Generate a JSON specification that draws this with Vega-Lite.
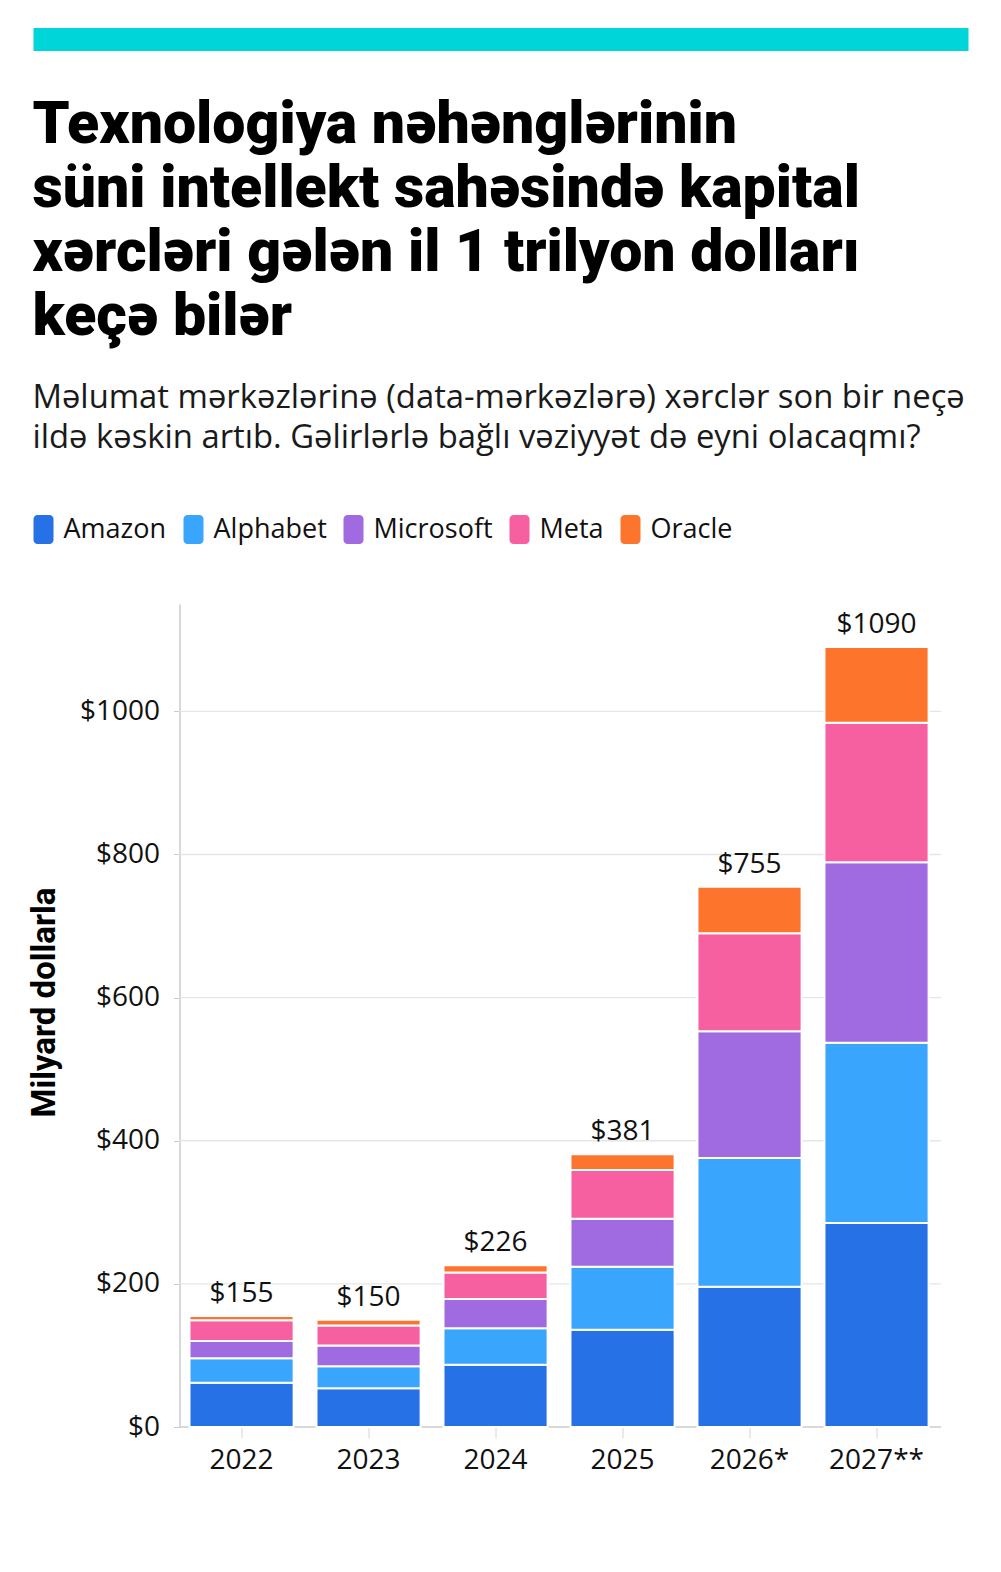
{
  "$schema": "https://vega.github.io/schema/vega-lite/v6.json",
  "background": "white",
  "padding": {"left": 27.5, "top": 28, "right": 0, "bottom": 30},
  "spacing": 45,
  "resolve": {"legend": {"color": "independent"}},
  "config": {
    "view": {"stroke": null},
    "font": "Open Sans"
  },
  "vconcat": [
    {
      "width": 935,
      "height": 23,
      "data": {"values": [{"part": "accent"}]},
      "mark": {"type": "rect", "color": "#00D5D9"},
      "encoding": {}
    },
    {
      "width": 908,
      "height": 823,
      "title": {
        "text": [
          "Texnologiya nəhənglərinin",
          "süni intellekt sahəsində kapital",
          "xərcləri gələn il 1 trilyon dolları",
          "keçə bilər"
        ],
        "subtitle": [
          "Məlumat mərkəzlərinə (data-mərkəzlərə) xərclər son bir neçə",
          "ildə kəskin artıb. Gəlirlərlə bağlı vəziyyət də eyni olacaqmı?"
        ],
        "anchor": "start",
        "dx": 4,
        "font": "Roboto",
        "fontSize": 59,
        "fontWeight": 900,
        "lineHeight": 64,
        "color": "#000000",
        "subtitleFont": "Open Sans",
        "subtitleFontSize": 32.8,
        "subtitleLineHeight": 40,
        "subtitleColor": "#1a1a1a",
        "subtitlePadding": 35,
        "offset": 60
      },
      "data": {
        "values": [
          {"year": "2022", "company": "Amazon", "value": 62},
          {"year": "2022", "company": "Alphabet", "value": 34},
          {"year": "2022", "company": "Microsoft", "value": 24},
          {"year": "2022", "company": "Meta", "value": 29},
          {"year": "2022", "company": "Oracle", "value": 6},
          {"year": "2023", "company": "Amazon", "value": 54},
          {"year": "2023", "company": "Alphabet", "value": 31},
          {"year": "2023", "company": "Microsoft", "value": 29},
          {"year": "2023", "company": "Meta", "value": 28},
          {"year": "2023", "company": "Oracle", "value": 8},
          {"year": "2024", "company": "Amazon", "value": 87},
          {"year": "2024", "company": "Alphabet", "value": 51},
          {"year": "2024", "company": "Microsoft", "value": 41},
          {"year": "2024", "company": "Meta", "value": 37},
          {"year": "2024", "company": "Oracle", "value": 10},
          {"year": "2025", "company": "Amazon", "value": 136},
          {"year": "2025", "company": "Alphabet", "value": 88},
          {"year": "2025", "company": "Microsoft", "value": 67},
          {"year": "2025", "company": "Meta", "value": 68},
          {"year": "2025", "company": "Oracle", "value": 22},
          {"year": "2026*", "company": "Amazon", "value": 196},
          {"year": "2026*", "company": "Alphabet", "value": 180},
          {"year": "2026*", "company": "Microsoft", "value": 177},
          {"year": "2026*", "company": "Meta", "value": 137},
          {"year": "2026*", "company": "Oracle", "value": 65},
          {"year": "2027**", "company": "Amazon", "value": 285},
          {"year": "2027**", "company": "Alphabet", "value": 252},
          {"year": "2027**", "company": "Microsoft", "value": 252},
          {"year": "2027**", "company": "Meta", "value": 195},
          {"year": "2027**", "company": "Oracle", "value": 106}
        ]
      },
      "encoding": {
        "x": {
          "field": "year",
          "type": "nominal",
          "sort": null,
          "title": null,
          "scale": {
            "domain": ["2022", "2023", "2024", "2025", "2026*", "2027**"],
            "paddingInner": 0.18,
            "paddingOuter": 0.665,
            "align": 0.9236
          },
          "axis": {
            "labelAngle": 0,
            "labelFontSize": 28,
            "labelColor": "#111111",
            "labelPadding": 8,
            "tickSize": 11,
            "tickColor": "#d6d6d6",
            "domain": false
          }
        }
      },
      "layer": [
        {
          "data": {
            "values": [
              {"tick": 0},
              {"tick": 200},
              {"tick": 400},
              {"tick": 600},
              {"tick": 800},
              {"tick": 1000}
            ]
          },
          "mark": {"type": "rule", "strokeWidth": 1.3},
          "encoding": {
            "x": {"datum": "2022", "type": "nominal", "bandPosition": -0.096},
            "x2": {"datum": "2027**", "bandPosition": 1.12},
            "y": {
              "field": "tick",
              "type": "quantitative",
              "title": "Milyard dollarla",
              "scale": {"domain": [0, 1150], "nice": false},
              "axis": {
                "values": [0, 200, 400, 600, 800, 1000],
                "format": "$.0f",
                "offset": -146,
                "grid": false,
                "labelFontSize": 28,
                "labelColor": "#111111",
                "labelPadding": 14,
                "tickSize": 6,
                "tickColor": "#cccccc",
                "domainColor": "#cccccc",
                "domainWidth": 1.5,
                "titleFont": "Roboto",
                "titleFontWeight": "bold",
                "titleFontSize": 33,
                "titleColor": "#000000",
                "titlePadding": 18,
                "titleY": 398
              }
            },
            "color": {
              "condition": {"test": "datum.tick === 0", "value": "#cccccc"},
              "value": "#e6e6e6"
            }
          }
        },
        {
          "transform": [
            {"calculate": "indexof(['Amazon', 'Alphabet', 'Microsoft', 'Meta', 'Oracle'], datum.company)", "as": "stack_rank"}
          ],
          "mark": {"type": "bar", "stroke": "white", "strokeWidth": 2},
          "encoding": {
            "y": {
              "field": "value",
              "type": "quantitative",
              "aggregate": "sum",
              "stack": "zero",
              "title": "Milyard dollarla"
            },
            "color": {
              "field": "company",
              "type": "nominal",
              "sort": ["Amazon", "Alphabet", "Microsoft", "Meta", "Oracle"],
              "scale": {
                "domain": ["Amazon", "Alphabet", "Microsoft", "Meta", "Oracle"],
                "range": ["#2571E5", "#39A5FD", "#A06BE0", "#F65FA0", "#FD752D"]
              },
              "legend": {
                "title": null,
                "orient": "none",
                "direction": "horizontal",
                "legendX": -4.5,
                "legendY": -89,
                "padding": 0,
                "labelFontSize": 27,
                "labelColor": "#111111",
                "labelOffset": 5.5,
                "columnPadding": 12,
                "symbolType": "M-0.41,-1 H0.41 A0.28,0.28 0 0 1 0.69,-0.72 V0.72 A0.28,0.28 0 0 1 0.41,1 H-0.41 A0.28,0.28 0 0 1 -0.69,0.72 V-0.72 A0.28,0.28 0 0 1 -0.41,-1 Z",
                "symbolSize": 841,
                "symbolStrokeWidth": 0,
                "symbolOpacity": 1
              }
            },
            "order": {"field": "stack_rank", "type": "quantitative", "sort": "ascending"}
          }
        },
        {
          "mark": {"type": "text", "fontSize": 28, "color": "#111111", "baseline": "alphabetic", "dy": -14},
          "encoding": {
            "y": {"field": "value", "type": "quantitative", "aggregate": "sum", "title": "Milyard dollarla"},
            "text": {"field": "value", "type": "quantitative", "aggregate": "sum", "format": "$.0f"}
          }
        }
      ]
    }
  ]
}
